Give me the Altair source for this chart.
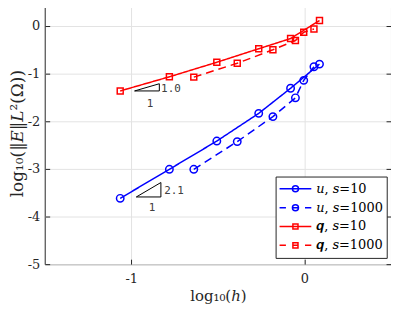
import altair as alt
import pandas as pd

# ---------------- data ----------------
series_names = ["𝑢, 𝑠=10", "𝑢, 𝑠=1000", "𝒒, 𝑠=10", "𝒒, 𝑠=1000"]
series_keys = ["u_s10", "u_s1000", "q_s10", "q_s1000"]

log_h_s10 = [-1.064, -0.780, -0.506, -0.264, -0.080, 0.087]
log_h_s1000 = [-0.639, -0.388, -0.182, -0.052, -0.004, 0.055]

log_err_u_s10 = [-3.618, -3.008, -2.415, -1.834, -1.307, -0.800]
log_err_u_s1000 = [-3.008, -2.427, -1.902, -1.508, -1.141, -0.855]
log_err_q_s10 = [-1.363, -1.066, -0.761, -0.477, -0.263, 0.116]
log_err_q_s1000 = [-1.073, -0.782, -0.498, -0.305, -0.129, -0.062]

x_ticks = [-1, 0]
y_ticks = [-5, -4, -3, -2, -1, 0]

# slope triangles (annotation)
tri_group = ["q", "q", "q", "q", "u", "u", "u", "u"]
tri_order = [0, 1, 2, 3, 0, 1, 2, 3]
tri_x = [-0.981, -0.838, -0.838, -0.981, -0.971, -0.829, -0.829, -0.971]
tri_y = [-1.363, -1.363, -1.212, -1.363, -3.589, -3.589, -3.286, -3.589]

slope_text = ["1.0", "1", "2.1", "1"]
slope_text_x = [-0.828, -0.910, -0.810, -0.899]
slope_text_y = [-1.328, -1.639, -3.473, -3.817]

# ---------------- tables ----------------
rows = []
for name, key, var, hs, es in [
    (series_names[0], series_keys[0], "u", log_h_s10, log_err_u_s10),
    (series_names[1], series_keys[1], "u", log_h_s1000, log_err_u_s1000),
    (series_names[2], series_keys[2], "q", log_h_s10, log_err_q_s10),
    (series_names[3], series_keys[3], "q", log_h_s1000, log_err_q_s1000),
]:
    for h, e in zip(hs, es):
        rows.append({"series": name, "key": key, "var": var, "log_h": h, "log_err": e})
df = pd.DataFrame(rows)

tri_df = pd.DataFrame({"grp": tri_group, "ord": tri_order, "tx": tri_x, "ty": tri_y})
txt_df = pd.DataFrame({"label": slope_text, "tx": slope_text_x, "ty": slope_text_y})

# ---------------- styling ----------------
SERIF = "DejaVu Serif"
AX = "#262626"
GRID = "#e3e3e3"
W, H = 349, 264

xs = alt.Scale(domain=[-1.5, 0.5], nice=False, zero=False)
ys = alt.Scale(domain=[-5, 0.5], nice=False, zero=False)

color_range = ["#0000ff", "#0000ff", "#ff0000", "#ff0000"]
legend_color_scale = alt.Scale(domain=series_names, range=color_range)
stroke_scale = alt.Scale(domain=series_keys, range=color_range)
dash_scale = alt.Scale(domain=series_keys, range=[[1, 0], [8, 5], [1, 0], [8, 5]])

circ = "M0.19,0A0.19,0.19,0,1,1,-0.19,0A0.19,0.19,0,1,1,0.19,0"
sq = "M-0.16,-0.16H0.16V0.16H-0.16Z"
solid_seg = "M-1,0H1"
dash_seg = "M-1,0H-0.6M-0.19,0H0.19M0.6,0H1"
shape_scale = alt.Scale(
    domain=series_names,
    range=[solid_seg + circ, dash_seg + circ, solid_seg + sq, dash_seg + sq],
)

minus_fix = "replace(datum.label, '\u2212', '-')"

x_main = alt.Axis(
    values=x_ticks, grid=True, gridColor=GRID, domain=False, ticks=False, tickSize=0,
    labelPadding=8, labelFont=SERIF, labelFontSize=13, labelColor=AX, labelExpr=minus_fix,
    title="log₁₀(ℎ)", titleFont=SERIF, titleFontSize=15, titleFontWeight="normal",
    titleColor=AX, titlePadding=4,
)
y_main = alt.Axis(
    values=y_ticks, grid=True, gridColor=GRID, domain=False, ticks=False, tickSize=0,
    labelPadding=5, labelFont=SERIF, labelFontSize=13, labelColor=AX, labelExpr=minus_fix,
    title="log₁₀(‖𝐸‖𝐿²(Ω))", titleFont=SERIF, titleFontSize=17, titleFontWeight="normal",
    titleColor=AX, titlePadding=1,
)


def inner_axis(orient, offset, vals):
    return alt.Axis(
        orient=orient, offset=offset, values=vals, labels=False, grid=False,
        domain=False, ticks=True, tickSize=5, tickColor=AX, tickWidth=1, title=None,
    )


x_in_bottom = inner_axis("top", -H, x_ticks)
x_in_top = inner_axis("bottom", -H, x_ticks)
y_in_left = inner_axis("right", -W, y_ticks)
y_in_right = inner_axis("left", -W, y_ticks)

base = alt.Chart(df)

leg = alt.Legend(
    orient="none", legendX=232.7, legendY=175.7, title=None,
    labelFont=SERIF, labelFontSize=13, labelColor="#000000", labelOffset=4,
    labelExpr="datum.label + '\u00a0\u00a0'",
    symbolSize=1024, symbolStrokeWidth=1.5, clipHeight=18.7, rowPadding=0,
    padding=3, strokeColor=AX, fillColor="white", cornerRadius=0,
)

legend_layer = base.transform_filter("false").mark_point(
    size=1024, filled=False, opacity=1, strokeWidth=1.5
).encode(
    x=alt.X("log_h:Q", scale=xs, axis=None),
    y=alt.Y("log_err:Q", scale=ys, axis=None),
    color=alt.Color("series:N", scale=legend_color_scale, legend=leg),
    shape=alt.Shape("series:N", scale=shape_scale, legend=leg),
)

lines = base.mark_line(strokeWidth=1.5).encode(
    x=alt.X("log_h:Q", scale=xs, axis=x_main),
    y=alt.Y("log_err:Q", scale=ys, axis=y_main),
    stroke=alt.Stroke("key:N", scale=stroke_scale, legend=None),
    strokeDash=alt.StrokeDash("key:N", scale=dash_scale, legend=None),
)

circles = base.transform_filter("datum.var == 'u'").mark_point(
    shape="circle", size=56, strokeWidth=1.5, filled=False, opacity=1
).encode(
    x=alt.X("log_h:Q", scale=xs, axis=x_in_bottom),
    y=alt.Y("log_err:Q", scale=ys, axis=y_in_left),
    stroke=alt.Stroke("key:N", scale=stroke_scale, legend=None),
)

squares = base.transform_filter("datum.var == 'q'").mark_point(
    shape="square", size=36, strokeWidth=1.5, filled=False, opacity=1
).encode(
    x=alt.X("log_h:Q", scale=xs, axis=x_in_top),
    y=alt.Y("log_err:Q", scale=ys, axis=y_in_right),
    stroke=alt.Stroke("key:N", scale=stroke_scale, legend=None),
)

triangles = alt.Chart(tri_df).mark_line(color="black", strokeWidth=1).encode(
    x=alt.X("tx:Q", scale=xs, axis=None),
    y=alt.Y("ty:Q", scale=ys, axis=None),
    detail="grp:N",
    order="ord:Q",
)

texts = alt.Chart(txt_df).mark_text(
    align="left", baseline="middle", font="DejaVu Sans Mono", fontSize=11, color="#404040"
).encode(
    x=alt.X("tx:Q", scale=xs, axis=None),
    y=alt.Y("ty:Q", scale=ys, axis=None),
    text="label:N",
)

chart = (
    alt.layer(legend_layer, lines, circles, squares, triangles, texts)
    .resolve_axis(x="independent", y="independent")
    .properties(
        width=W, height=H, autosize="none",
        padding={"left": 37, "top": -7, "right": 0, "bottom": 40},
        background="white",
    )
    .configure_view(stroke=AX, strokeWidth=1)
)

chart.save("out.html", embed_options={"renderer": "svg", "actions": False})
